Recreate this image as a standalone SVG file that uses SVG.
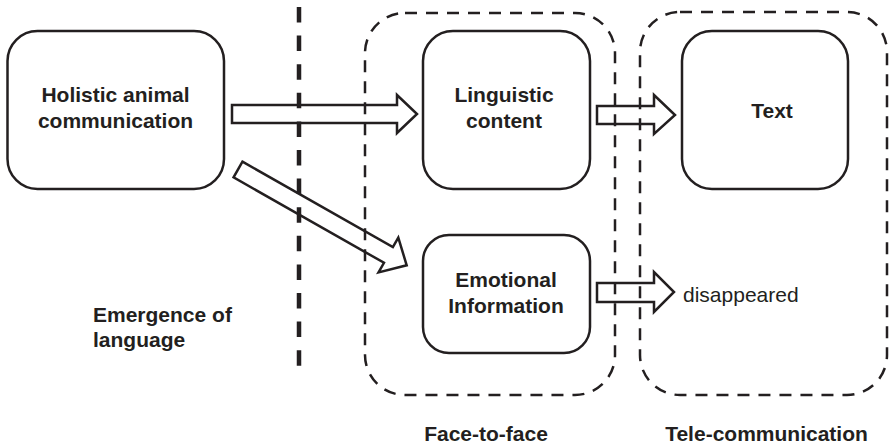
<svg xmlns="http://www.w3.org/2000/svg" width="889" height="447" viewBox="0 0 889 447">
  <style>
    .node { fill: #ffffff; stroke: #231f20; stroke-width: 2.5; }
    .group { fill: none; stroke: #231f20; stroke-width: 2.5; stroke-dasharray: 12 9; }
    .divider { fill: none; stroke: #231f20; stroke-width: 4.5; stroke-dasharray: 15.5 13.1; }
    .arrow { fill: none; stroke: #231f20; stroke-width: 2.5; stroke-linejoin: miter; }
    .label { font-family: "Liberation Sans", Arial, sans-serif; font-size: 21px; font-weight: bold; fill: #231f20; text-anchor: middle; }
    .plain { font-family: "Liberation Sans", Arial, sans-serif; font-size: 21px; fill: #231f20; }
  </style>
  <rect width="889" height="447" fill="#ffffff"/>

  <!-- nodes -->
  <g id="holistic">
    <rect class="node" x="7.5" y="31" width="216.5" height="158" rx="30"/>
    <text class="label" x="115.5" y="102">Holistic animal</text>
    <text class="label" x="115.5" y="128">communication</text>
  </g>
  <g id="linguistic">
    <rect class="node" x="423" y="31" width="167" height="158" rx="30"/>
    <text class="label" x="504" y="102">Linguistic</text>
    <text class="label" x="504" y="128">content</text>
  </g>
  <g id="emotional">
    <rect class="node" x="423" y="235" width="167" height="118" rx="26"/>
    <text class="label" x="506" y="287">Emotional</text>
    <text class="label" x="506" y="313">Information</text>
  </g>
  <g id="text-node">
    <rect class="node" x="682" y="31" width="166" height="158" rx="30"/>
    <text class="label" x="772" y="118">Text</text>
  </g>

  <!-- connectors: hollow block arrows -->
  <g id="connectors">
    <polygon class="arrow" points="232,105 397,105 397,95 417,114 397,133 397,123 232,123"/>
    <polygon class="arrow" transform="translate(238,169.5) rotate(29.6)" points="0,-9 173,-9 173,-20 194,0 173,20 173,9 0,9"/>
    <polygon class="arrow" points="597,106 654,106 654,95 675,115 654,134 654,124 597,124"/>
    <polygon class="arrow" points="597,283 654,283 654,272 674,292 654,312 654,302 597,302"/>
  </g>

  <!-- language emergence divider -->
  <g id="divider">
    <line class="divider" x1="299" y1="7" x2="299" y2="366"/>
    <text class="label" x="93" y="322" style="text-anchor:start">Emergence of</text>
    <text class="label" x="93" y="347" style="text-anchor:start">language</text>
  </g>

  <!-- groupings -->
  <g id="face-to-face">
    <rect class="group" x="365" y="13" width="250" height="382" rx="40"/>
    <text class="label" x="486" y="441">Face-to-face</text>
  </g>
  <g id="tele-communication">
    <rect class="group" x="640" y="12" width="247" height="383" rx="40"/>
    <text class="label" x="766.5" y="441">Tele-communication</text>
    <text class="plain" x="683" y="302">disappeared</text>
  </g>
</svg>
